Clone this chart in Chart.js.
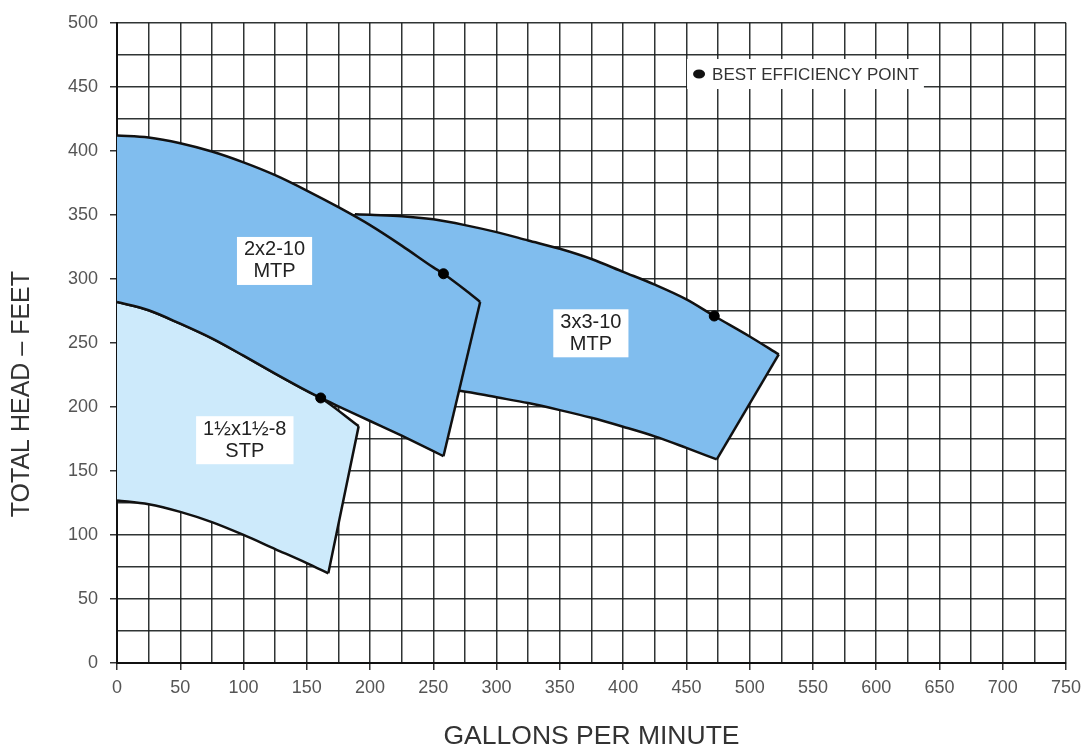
<!DOCTYPE html>
<html>
<head>
<meta charset="utf-8">
<script src="https://cdn.jsdelivr.net/npm/chart.js@4.4.1/dist/chart.umd.min.js"></script>
<style>
  body { margin: 0; background: #fff; }
</style>
</head>
<body>
<canvas id="pumpChart" width="1089" height="750"></canvas>
<script>
// operating ranges (gpm vs total head in feet)
const mtp2TopX = [0, 25, 50, 75, 100, 125, 150, 175, 200, 225, 250, 258, 275, 287];
const mtp2TopY = [412, 410.5, 406, 399.5, 391, 381, 369, 356, 342, 326, 309, 304, 291.5, 282];
const mtp2BottomX = [0, 25, 50, 75, 100, 125, 150, 161, 175, 200, 225, 250, 258];
const mtp2BottomY = [282, 275.5, 265, 253.5, 240, 226, 212.5, 207, 200.5, 189, 177.5, 165.5, 161.5];

const stpTopX = [0, 25, 50, 75, 100, 125, 150, 161, 191];
const stpTopY = [282, 275.5, 265, 253.5, 240, 226, 212.5, 207, 185];
const stpBottomX = [0, 25, 50, 75, 100, 125, 150, 167];
const stpBottomY = [127, 124, 118, 110, 100, 89, 78, 70];

// 3x3 starts behind the 2x2 band, first bottom point is hidden under it
const mtp3TopX = [188, 200, 225, 250, 275, 300, 325, 350, 375, 400, 425, 450, 472, 500, 523];
const mtp3TopY = [350.5, 350, 349, 346.5, 342, 336.5, 330, 323.5, 315.5, 305.5, 295.5, 284, 271, 255, 241];
const mtp3BottomX = [240, 272, 300, 325, 350, 375, 400, 425, 450, 474];
const mtp3BottomY = [215, 212.5, 207.5, 203, 197.5, 191.5, 184.5, 177, 168, 159];

// best efficiency points: 2x2-10, 1½x1½-8, 3x3-10
const bepX = [258, 161, 472];
const bepY = [304, 207, 271];

const regionNames = [['2x2-10', 'MTP'], ['1½x1½-8', 'STP'], ['3x3-10', 'MTP']];
const labelX = [124.5, 101, 374.5];
const labelY = [314, 174, 257.5];

const legendText = 'BEST EFFICIENCY POINT';
const legendX = 460;
const legendY = 460;

const yTitle = 'TOTAL HEAD – FEET';
const FONT = '"Liberation Sans", Arial, Helvetica, sans-serif';

function pts(xs, ys) {
  return xs.map((v, i) => ({ x: v, y: ys[i] }));
}

// closed outline: top left->right, then bottom right->left
function outline(topX, topY, botX, botY) {
  let p = pts(topX, topY).concat(pts(botX, botY).reverse());
  p.push(p[0]);
  return p;
}

function curve(label, data) {
  return {
    label: label,
    data: data,
    showLine: true,
    fill: false,
    borderColor: '#111',
    borderWidth: 2.5,
    pointRadius: 0,
    cubicInterpolationMode: 'monotone'
  };
}

function region(label, color, data) {
  return {
    label: label,
    data: data,
    showLine: true,
    fill: 'shape',
    backgroundColor: color,
    borderColor: 'rgba(0,0,0,0)',
    borderWidth: 1,
    pointRadius: 0,
    tension: 0
  };
}

function lastPt(xs, ys) { return { x: xs[xs.length - 1], y: ys[ys.length - 1] }; }

const boxLabels = {
  id: 'boxLabels',
  afterDraw(chart) {
    const ctx = chart.ctx;
    const xs = chart.scales.x;
    const ys = chart.scales.y;
    ctx.save();
    ctx.font = '20px ' + FONT;
    ctx.textAlign = 'center';
    ctx.textBaseline = 'middle';
    regionNames.forEach((lines, i) => {
      const cx = xs.getPixelForValue(labelX[i]);
      const cy = ys.getPixelForValue(labelY[i]);
      const w = Math.max(...lines.map(l => ctx.measureText(l).width)) + 14;
      ctx.fillStyle = '#fff';
      ctx.fillRect(cx - w / 2, cy - 24, w, 48);
      ctx.fillStyle = '#222';
      ctx.fillText(lines[0], cx, cy - 11);
      ctx.fillText(lines[1], cx, cy + 11);
    });

    // legend for the dots
    const lx = xs.getPixelForValue(legendX);
    const ly = ys.getPixelForValue(legendY);
    ctx.font = '17px ' + FONT;
    const tw = ctx.measureText(legendText).width;
    ctx.fillStyle = '#fff';
    ctx.fillRect(lx - 12, ly - 15, tw + 30, 30);
    ctx.fillStyle = '#111';
    ctx.beginPath();
    ctx.ellipse(lx, ly, 6, 4.5, 0, 0, Math.PI * 2);
    ctx.fill();
    ctx.fillStyle = '#333';
    ctx.textAlign = 'left';
    ctx.fillText(legendText, lx + 13, ly + 1);

    // y axis title sits a bit below the middle on the original sheet
    ctx.translate(22, ys.getPixelForValue(210));
    ctx.rotate(-Math.PI / 2);
    ctx.textAlign = 'center';
    ctx.font = '25px ' + FONT;
    ctx.fillStyle = '#333';
    ctx.fillText(yTitle, 0, 0);
    ctx.restore();
  }
};

const minorTick = ctx => (ctx.tick && ctx.tick.value % 50 === 0) ? '#333' : 'rgba(0,0,0,0)';

new Chart(document.getElementById('pumpChart'), {
  type: 'scatter',
  data: {
    datasets: [
      {
        label: 'Best efficiency point',
        data: pts(bepX, bepY),
        pointRadius: 5,
        pointBackgroundColor: '#000',
        pointBorderColor: '#000',
        showLine: false
      },
      curve('2x2-10 top', pts(mtp2TopX, mtp2TopY)),
      curve('2x2-10 end', [lastPt(mtp2TopX, mtp2TopY), lastPt(mtp2BottomX, mtp2BottomY)]),
      curve('2x2-10 bottom', pts(mtp2BottomX, mtp2BottomY)),
      region('2x2-10 MTP', '#80bdee', outline(mtp2TopX, mtp2TopY, mtp2BottomX, mtp2BottomY)),
      curve('1½x1½-8 top', pts(stpTopX, stpTopY)),
      curve('1½x1½-8 end', [lastPt(stpTopX, stpTopY), lastPt(stpBottomX, stpBottomY)]),
      curve('1½x1½-8 bottom', pts(stpBottomX, stpBottomY)),
      region('1½x1½-8 STP', '#cdeafb', outline(stpTopX, stpTopY, stpBottomX, stpBottomY)),
      curve('3x3-10 top', pts(mtp3TopX, mtp3TopY)),
      curve('3x3-10 end', [lastPt(mtp3TopX, mtp3TopY), lastPt(mtp3BottomX, mtp3BottomY)]),
      curve('3x3-10 bottom', pts(mtp3BottomX, mtp3BottomY)),
      region('3x3-10 MTP', '#80bdee', outline(mtp3TopX, mtp3TopY, mtp3BottomX, mtp3BottomY))
    ]
  },
  options: {
    responsive: false,
    animation: false,
    layout: { padding: { top: 17, right: 23, left: 0, bottom: 0 } },
    plugins: {
      legend: { display: false },
      tooltip: { enabled: false }
    },
    scales: {
      x: {
        type: 'linear',
        min: 0,
        max: 750,
        z: 1,
        afterFit: s => { s.height = 87; },
        grid: { color: 'rgba(25,30,30,0.9)', lineWidth: 1.5, tickLength: 7, tickColor: minorTick },
        border: { color: '#111', width: 2 },
        ticks: {
          stepSize: 25,
          autoSkip: false,
          maxRotation: 0,
          padding: 7,
          color: '#555',
          font: { family: FONT, size: 18 },
          callback: v => v % 50 === 0 ? v : ''
        },
        title: {
          display: true,
          text: 'GALLONS PER MINUTE',
          color: '#333',
          font: { family: FONT, size: 26.5, lineHeight: 1 },
          padding: { top: 0, bottom: 0 }
        }
      },
      y: {
        type: 'linear',
        min: 0,
        max: 500,
        z: 1,
        afterFit: s => { s.width = 117; },
        grid: { color: 'rgba(25,30,30,0.9)', lineWidth: 1.5, tickLength: 7, tickColor: minorTick },
        border: { color: '#111', width: 2 },
        ticks: {
          stepSize: 25,
          autoSkip: false,
          padding: 12,
          color: '#555',
          font: { family: FONT, size: 18 },
          callback: v => v % 50 === 0 ? v : ''
        }
      }
    }
  },
  plugins: [boxLabels]
});
</script>
</body>
</html>
